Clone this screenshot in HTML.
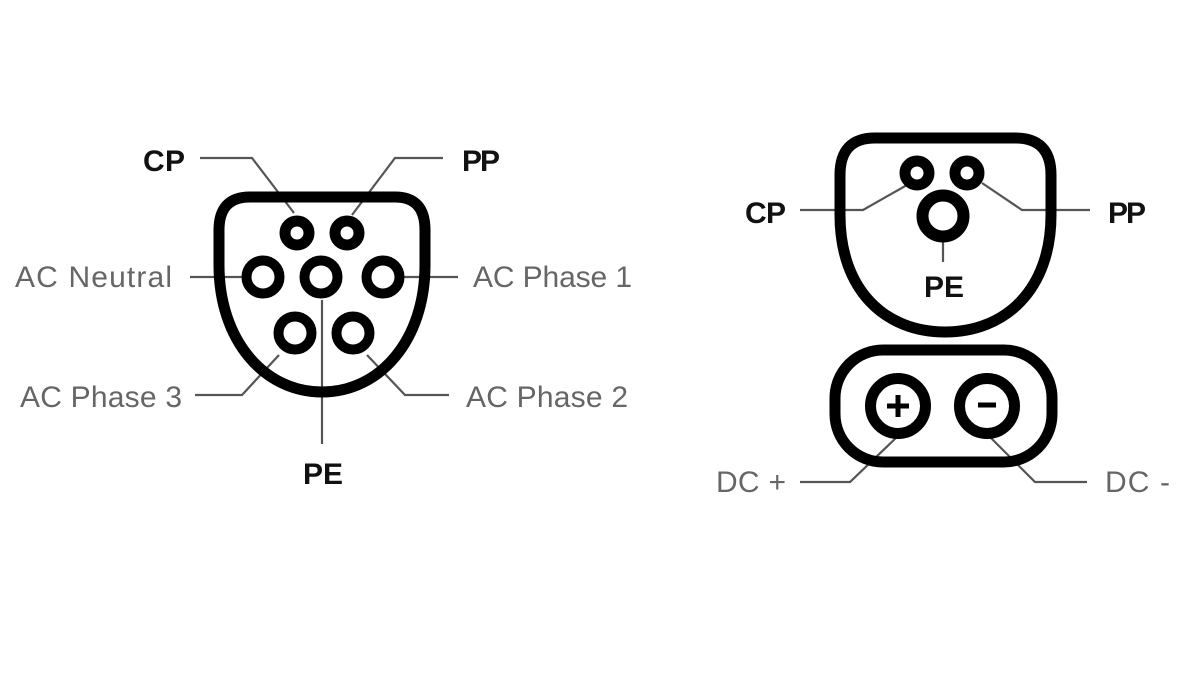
<!DOCTYPE html>
<html><head><meta charset="utf-8"><style>
html,body{margin:0;padding:0;background:#fff;}
svg{display:block;}
.b{font-family:"Liberation Sans",sans-serif;font-weight:bold;font-size:30px;fill:#111;}
.g{font-family:"Liberation Sans",sans-serif;font-size:30px;fill:#666;}
</style></head><body>
<svg width="1200" height="674" viewBox="0 0 1200 674" xmlns="http://www.w3.org/2000/svg">
<rect width="1200" height="674" fill="#fff"/>
<!-- connectors -->
<g stroke="#555" stroke-width="2.2" fill="none">
<polyline points="200,158 252,158 294,213"/>
<polyline points="352,215 395,158 443,158"/>
<line x1="190" y1="277" x2="246" y2="277"/>
<line x1="398" y1="277" x2="458" y2="277"/>
<polyline points="279,355 242,395 195,395"/>
<polyline points="367,355 405,395 449,395"/>
<line x1="322" y1="300" x2="322" y2="444"/>
<polyline points="907,185 863,210 800,210"/>
<polyline points="982,183 1022,210 1090,210"/>
<line x1="943" y1="236" x2="943" y2="262"/>
<polyline points="897,437 850,482 800,482"/>
<polyline points="990,437 1035,482 1087,482"/>
</g>
<!-- left connector -->
<g stroke="#000" fill="none">
<path d="M250 197 L395 197 Q425 197 425 230 L425 265 C425 340 380 392 322 392 C264 392 219 340 219 265 L219 230 Q219 197 250 197 Z" stroke-width="11"/>
<circle cx="297" cy="233" r="12" stroke-width="11"/>
<circle cx="347" cy="233" r="12" stroke-width="11"/>
<circle cx="263" cy="277" r="16.5" stroke-width="10"/>
<circle cx="321" cy="277" r="16.5" stroke-width="10"/>
<circle cx="383" cy="277" r="16.5" stroke-width="10"/>
<circle cx="295" cy="333" r="16.5" stroke-width="10"/>
<circle cx="353" cy="333" r="16.5" stroke-width="10"/>
</g>
<!-- right connector -->
<g stroke="#000" fill="none">
<path d="M875 138 L1015 138 Q1051 138 1051 175 L1051 215 C1051 290 1005 332 945 332 C885 332 840 290 840 215 L840 175 Q840 138 875 138 Z" stroke-width="11"/>
<circle cx="917" cy="173" r="12" stroke-width="11"/>
<circle cx="967" cy="173" r="12" stroke-width="11"/>
<circle cx="943" cy="216" r="20.5" stroke-width="12"/>
<rect x="835" y="350" width="217" height="112" rx="48" stroke-width="11"/>
<circle cx="898" cy="406" r="27.5" stroke-width="11"/>
<circle cx="987" cy="406" r="27.5" stroke-width="11"/>
</g>
<g stroke="#000" stroke-width="5">
<line x1="887" y1="406" x2="909" y2="406"/>
<line x1="898" y1="395" x2="898" y2="417"/>
<line x1="978" y1="405" x2="996" y2="405"/>
</g>
<!-- labels -->
<text class="b" x="143" y="171" textLength="42">CP</text>
<text class="b" x="462" y="171" textLength="38">PP</text>
<text class="b" x="303" y="484" textLength="40">PE</text>
<text class="g" x="15" y="287" textLength="157">AC Neutral</text>
<text class="g" x="473" y="287" textLength="159">AC Phase 1</text>
<text class="g" x="20" y="407" textLength="162">AC Phase 3</text>
<text class="g" x="466" y="407" textLength="162">AC Phase 2</text>
<text class="b" x="745" y="223" textLength="41">CP</text>
<text class="b" x="1108" y="223" textLength="38">PP</text>
<text class="b" x="924" y="297" textLength="40">PE</text>
<text class="g" x="716" y="492" textLength="70">DC +</text>
<text class="g" x="1105" y="492" textLength="65">DC -</text>
</svg>
</body></html>
